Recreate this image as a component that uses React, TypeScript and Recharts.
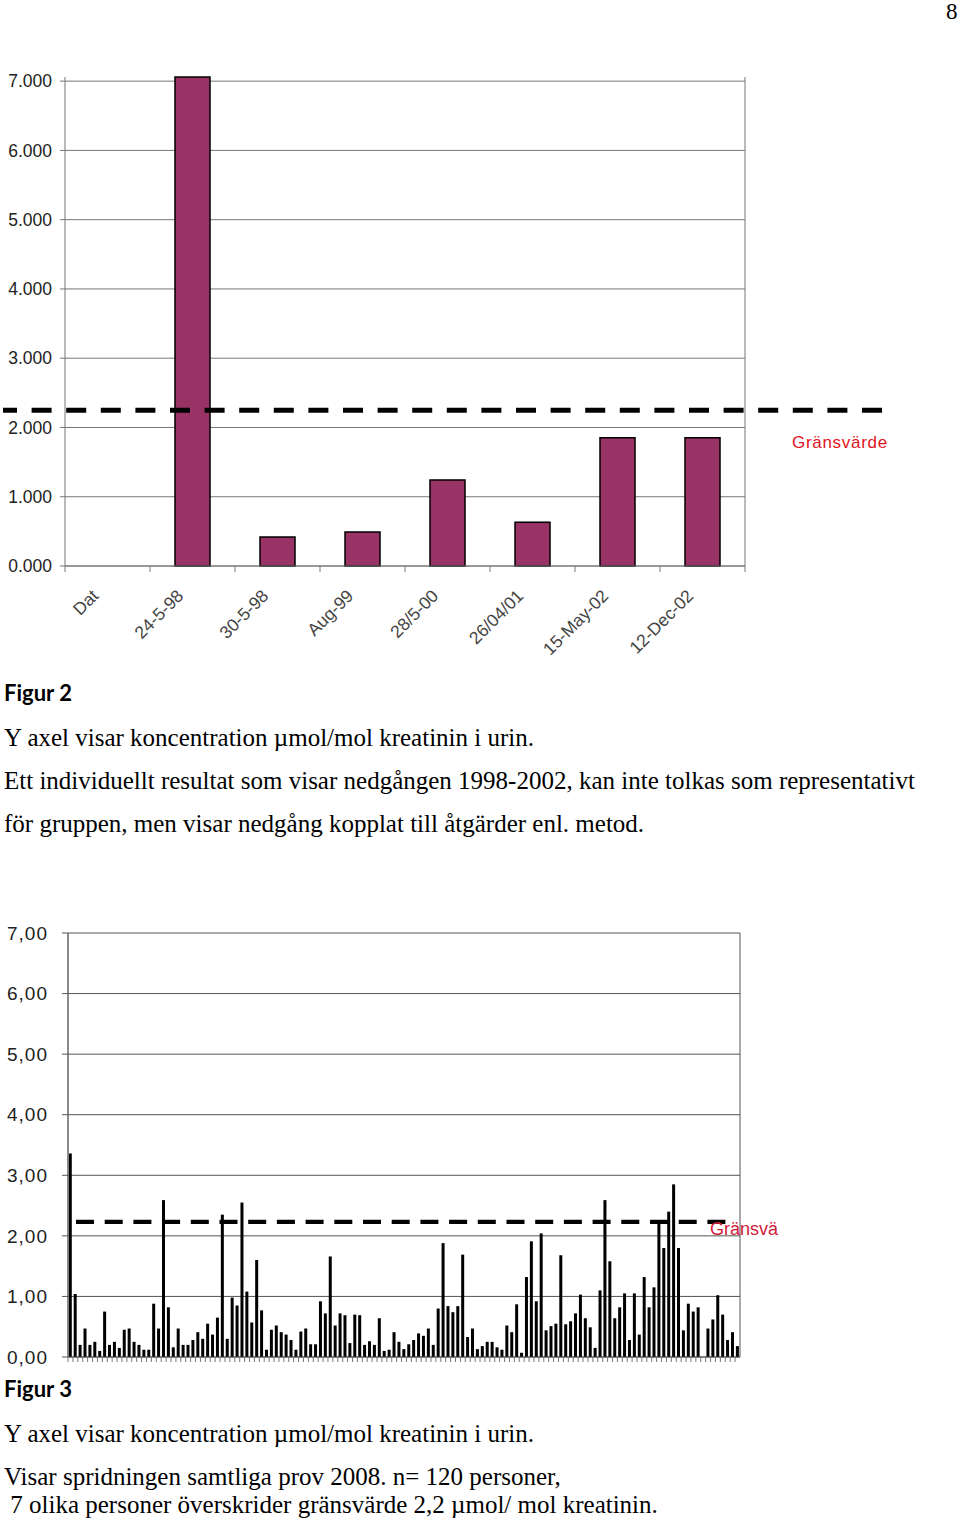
import React from 'react';
import {
  BarChart,
  Bar,
  XAxis,
  YAxis,
  CartesianGrid,
  ReferenceLine
} from 'recharts';

// Figur 2 - individual result 1998-2002
const sampleDates = ['Dat', '24-5-98', '30-5-98', 'Aug-99', '28/5-00', '26/04/01', '15-May-02', '12-Dec-02'];
const sampleValues = [null, 7.06, 0.42, 0.49, 1.24, 0.63, 1.85, 1.85];
const fig2Ticks = [0, 1, 2, 3, 4, 5, 6, 7];
const fig2Limit = 2.25;

// Figur 3 - all samples 2008
const personValues = [
  3.36, 1.04, 0.2, 0.47, 0.2, 0.25, 0.1, 0.75, 0.2, 0.25,
  0.15, 0.45, 0.47, 0.25, 0.2, 0.12, 0.12, 0.88, 0.47, 2.59,
  0.82, 0.16, 0.47, 0.2, 0.2, 0.28, 0.41, 0.3, 0.55, 0.37,
  0.65, 2.35, 0.3, 0.98, 0.85, 2.55, 1.08, 0.57, 1.6, 0.77,
  0.12, 0.45, 0.52, 0.41, 0.37, 0.28, 0.12, 0.42, 0.47, 0.21,
  0.21, 0.92, 0.72, 1.66, 0.52, 0.72, 0.69, 0.23, 0.7, 0.69,
  0.2, 0.26, 0.2, 0.64, 0.1, 0.12, 0.41, 0.25, 0.13, 0.21,
  0.28, 0.39, 0.35, 0.47, 0.2, 0.8, 1.88, 0.84, 0.74, 0.84,
  1.69, 0.33, 0.47, 0.13, 0.18, 0.25, 0.25, 0.16, 0.12, 0.52,
  0.41, 0.87, 0.07, 1.32, 1.91, 0.92, 2.04, 0.44, 0.51, 0.55,
  1.68, 0.54, 0.59, 0.72, 1.03, 0.64, 0.49, 0.15, 1.1, 2.59,
  1.58, 0.64, 0.82, 1.05, 0.28, 1.05, 0.37, 1.32, 0.82, 1.15,
  2.21, 1.8, 2.4, 2.85, 1.8, 0.44, 0.88, 0.75, 0.82, 0,
  0.47, 0.62, 1.02, 0.7, 0.28, 0.41, 0.18
];
const fig3Ticks = [0, 1, 2, 3, 4, 5, 6, 7];
const fig3Limit = 2.23;

const fig2Data = sampleDates.map((d, i) => ({ date: d, value: sampleValues[i] }));
const fig3Data = personValues.map((v, i) => ({ id: i + 1, value: v }));

const SANS = '"Liberation Sans", Arial, sans-serif';
const SERIF = '"Liberation Serif", "Times New Roman", serif';

// right edge of the plot box
const rightEdge = ({ offset }: any) => [offset.left + offset.width];

const DateTick = (props: any) => {
  const { x, y, payload, index } = props;
  const half = 42.5;
  const tx = x - 8;
  const ty = y + 31;
  return (
    <g>
      <line x1={x - half} x2={x - half} y1={y} y2={y + 6} stroke="#777" />
      {index === sampleDates.length - 1 && (
        <line x1={x + half} x2={x + half} y1={y} y2={y + 6} stroke="#777" />
      )}
      <text
        x={tx}
        y={ty}
        textAnchor="end"
        transform={`rotate(-45 ${tx} ${ty})`}
        fontSize={17.5}
        fontFamily={SANS}
        fill="#444"
      >
        {payload.value}
      </text>
    </g>
  );
};

const PersonTick = (props: any) => {
  const { x, y } = props;
  return <line x1={x - 2.45} x2={x - 2.45} y1={y} y2={y + 5} stroke="#777" />;
};

const Limit2 = (props: any) => {
  const { x1, x2, y1 } = props;
  return (
    <g>
      <line
        x1={x1 - 62}
        x2={x2 + 137}
        y1={y1}
        y2={y1}
        stroke="#000"
        strokeWidth={5}
        strokeDasharray="20 14.6"
        strokeDashoffset={6}
      />
      <text x={x2 + 47} y={y1 + 38} fontSize={17} letterSpacing={0.7} fontFamily={SANS} fill="#e0141e">
        Gränsvärde
      </text>
    </g>
  );
};

const Limit3 = (props: any) => {
  const { x1, x2, y1 } = props;
  return (
    <g>
      <line
        x1={x1 + 8}
        x2={x2 - 10}
        y1={y1}
        y2={y1}
        stroke="#000"
        strokeWidth={4.3}
        strokeDasharray="18 10.7"
      />
      <text x={x2 - 30} y={y1 + 13} fontSize={18} fontFamily={SANS} fill="#d0203a">
        Gränsvä
      </text>
    </g>
  );
};

const TextLine = ({ top, left = 4, children }: any) => (
  <div
    style={{
      position: 'absolute',
      top,
      left,
      fontFamily: SERIF,
      fontSize: 25,
      lineHeight: '25px',
      whiteSpace: 'pre',
      color: '#000'
    }}
  >
    {children}
  </div>
);

const Caption = ({ top, children }: any) => (
  <div
    style={{
      position: 'absolute',
      top,
      left: 4,
      fontFamily: 'Lato, "Open Sans", sans-serif',
      fontWeight: 700,
      fontSize: 22,
      lineHeight: '22px',
      color: '#000'
    }}
  >
    {children}
  </div>
);

export default function App() {
  return (
    <div
      style={{
        position: 'absolute',
        left: 0,
        top: 0,
        width: 960,
        height: 1520,
        background: '#fff',
        overflow: 'hidden'
      }}
    >
      <div
        style={{ position: 'absolute', left: 946, top: 0, fontFamily: SERIF, fontSize: 23, lineHeight: '23px' }}
      >
        8
      </div>

      <div style={{ position: 'absolute', left: 0, top: 60 }}>
        <BarChart
          width={960}
          height={606}
          data={fig2Data}
          margin={{ top: 17, right: 215, left: 0, bottom: 0 }}
          barSize={35}
        >
          <CartesianGrid
            stroke="#777"
            horizontalValues={fig2Ticks}
            verticalCoordinatesGenerator={rightEdge}
          />
          <XAxis
            dataKey="date"
            interval={0}
            height={100}
            tickSize={0}
            tickMargin={0}
            tickLine={false}
            axisLine={{ stroke: '#777' }}
            tick={<DateTick />}
          />
          <YAxis
            domain={[0, 7.06]}
            ticks={fig2Ticks}
            interval={0}
            width={65}
            tickSize={5}
            tickMargin={8}
            tickFormatter={(v: number) => v.toFixed(3)}
            tick={{ fontSize: 17.5, fontFamily: SANS, fill: '#222' }}
            tickLine={{ stroke: '#777' }}
            axisLine={{ stroke: '#777' }}
          />
          <Bar dataKey="value" fill="#993366" stroke="#000" strokeWidth={1.5} isAnimationActive={false} />
          <ReferenceLine y={fig2Limit} shape={<Limit2 />} />
        </BarChart>
      </div>

      <Caption top={681.5}>Figur 2</Caption>
      <TextLine top={725.1}>Y axel visar koncentration µmol/mol kreatinin i urin.</TextLine>
      <TextLine top={768.4}>
        Ett individuellt resultat som visar nedgången 1998-2002, kan inte tolkas som representativt
      </TextLine>
      <TextLine top={810.8}>för gruppen, men visar nedgång kopplat till åtgärder enl. metod.</TextLine>

      <div style={{ position: 'absolute', left: 0, top: 915 }}>
        <BarChart
          width={960}
          height={452}
          data={fig3Data}
          margin={{ top: 18, right: 220, left: 0, bottom: 0 }}
          barCategoryGap="16%"
        >
          <CartesianGrid
            stroke="#555"
            horizontalValues={fig3Ticks}
            verticalCoordinatesGenerator={rightEdge}
          />
          <XAxis
            dataKey="id"
            interval={0}
            height={10}
            tickSize={0}
            tickMargin={0}
            tickLine={false}
            axisLine={{ stroke: '#555' }}
            tick={<PersonTick />}
          />
          <YAxis
            domain={[0, 7]}
            ticks={fig3Ticks}
            interval={0}
            width={68}
            tickSize={6}
            tickMargin={14}
            tickFormatter={(v: number) => v.toFixed(2).replace('.', ',')}
            tick={{ fontSize: 19, letterSpacing: 1, fontFamily: SANS, fill: '#222' }}
            tickLine={{ stroke: '#555' }}
            axisLine={{ stroke: '#666', strokeWidth: 1.5 }}
          />
          <Bar dataKey="value" fill="#000" isAnimationActive={false} />
          <ReferenceLine y={fig3Limit} shape={<Limit3 />} />
        </BarChart>
      </div>

      <Caption top={1377.5}>Figur 3</Caption>
      <TextLine top={1421}>Y axel visar koncentration µmol/mol kreatinin i urin.</TextLine>
      <TextLine top={1464}>Visar spridningen samtliga prov 2008. n= 120 personer,</TextLine>
      <TextLine top={1492}> 7 olika personer överskrider gränsvärde 2,2 µmol/ mol kreatinin.</TextLine>
    </div>
  );
}
